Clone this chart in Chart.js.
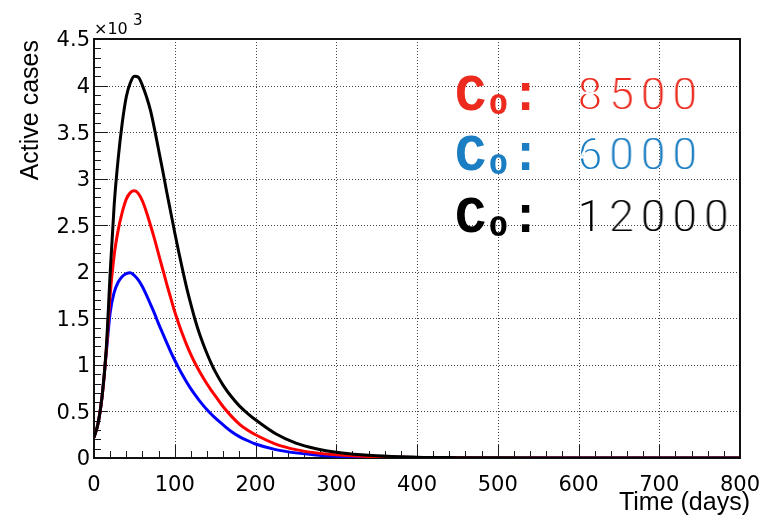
<!DOCTYPE html>
<html>
<head>
<meta charset="utf-8">
<title>Active cases vs time</title>
<script src="https://cdn.jsdelivr.net/npm/chart.js@4.4.1/dist/chart.umd.min.js"></script>
<style>
  html, body { margin: 0; padding: 0; background: #ffffff; }
  canvas { display: block; }
</style>
</head>
<body>
<canvas id="chart" width="761" height="519"></canvas>
<script>
// Sample days (x) shared by all three curves
const days = [0, 5, 10, 15, 20, 25, 30, 35, 40, 45, 50, 55, 60, 65, 70, 75, 80, 85, 90, 95,
              100, 105, 110, 115, 120, 125, 130, 135, 140, 145, 150, 160, 170, 180, 190, 200,
              225, 250, 275, 300, 350, 400, 450, 500, 600, 700, 800];

// Active cases for each initial value C0
const casesC0_12000 = [220, 370, 660, 1150, 1980, 2720, 3220, 3600, 3880, 4030, 4100, 4090, 4000,
                       3880, 3730, 3530, 3310, 3090, 2860, 2640, 2420, 2210, 2010, 1820, 1650,
                       1490, 1350, 1230, 1120, 1020, 930, 780, 660, 560, 480, 410,
                       260, 160, 100, 62, 24, 9, 3.5, 1.4, 0.2, 0, 0];
const casesC0_8500  = [220, 370, 660, 1130, 1750, 2180, 2450, 2640, 2780, 2850, 2870, 2840, 2760,
                       2640, 2500, 2350, 2190, 2030, 1870, 1720, 1570, 1440, 1320, 1210, 1110,
                       1020, 940, 865, 795, 730, 670, 550, 450, 365, 300, 250,
                       150, 90, 55, 35, 13, 5, 2, 0.7, 0.1, 0, 0];
const casesC0_6000  = [220, 370, 660, 1110, 1560, 1780, 1890, 1950, 1980, 1990, 1960, 1910, 1840,
                       1750, 1650, 1550, 1440, 1340, 1240, 1140, 1050, 965, 885, 810, 742,
                       680, 622, 568, 518, 472, 430, 355, 285, 230, 188, 150,
                       90, 55, 33, 20, 7, 2.5, 1, 0.3, 0, 0, 0];

// Axis tick labels
const xTickValues = [0, 100, 200, 300, 400, 500, 600, 700, 800];
const xTickLabels = ['0', '100', '200', '300', '400', '500', '600', '700', '800'];
const yTickValues = [0, 500, 1000, 1500, 2000, 2500, 3000, 3500, 4000, 4500];
const yTickLabels = ['0', '0.5', '1', '1.5', '2', '2.5', '3', '3.5', '4', '4.5'];

// Legend entries (C0 values), drawn in this order from top to bottom
const legendValues = ['8500', '6000', '12000'];
const legendColors = ['#ec2a1e', '#1c7ec2', '#000000'];

const toPoints = (ys) => days.map((d, i) => ({ x: d, y: ys[i] }));

// Draw a character on a scratch canvas and erode its strokes so that it looks light
function drawLightChar(ctx, ch, cx, y, font, color, erode) {
  const off = document.createElement('canvas');
  off.width = 80; off.height = 100;
  const o = off.getContext('2d');
  o.font = font;
  o.textAlign = 'center';
  o.textBaseline = 'alphabetic';
  o.fillStyle = color;
  o.fillText(ch, 40, 75);
  o.globalCompositeOperation = 'destination-out';
  o.lineWidth = erode;
  o.strokeText(ch, 40, 75);
  ctx.drawImage(off, cx - 40, y - 75);
}

// Dotted grid, frame, inward tick marks, titles and the C0 legend
const frameAndTicks = {
  id: 'frameAndTicks',
  beforeDatasetsDraw(chart) {
    const { ctx, chartArea: a, scales: { x, y } } = chart;
    ctx.save();
    ctx.strokeStyle = '#444444';
    ctx.lineWidth = 1;
    ctx.setLineDash([1, 2]);
    xTickValues.forEach(v => {
      if (v <= 0 || v >= 800) return;
      const px = Math.round(x.getPixelForValue(v)) + 0.5;
      ctx.beginPath(); ctx.moveTo(px, a.top); ctx.lineTo(px, a.bottom); ctx.stroke();
    });
    yTickValues.forEach(v => {
      if (v <= 0 || v >= 4500) return;
      const py = Math.round(y.getPixelForValue(v)) + 0.5;
      ctx.beginPath(); ctx.moveTo(a.left, py); ctx.lineTo(a.right, py); ctx.stroke();
    });
    ctx.setLineDash([]);
    ctx.strokeStyle = '#1a1a1a';
    ctx.lineWidth = 1;
    for (let v = 0; v <= 800; v += 20) {
      const px = Math.round(x.getPixelForValue(v)) + 0.5;
      const len = (v % 100 === 0) ? 13 : 7;
      ctx.beginPath(); ctx.moveTo(px, a.bottom); ctx.lineTo(px, a.bottom - len); ctx.stroke();
    }
    for (let v = 0; v <= 4500; v += 100) {
      const py = Math.round(y.getPixelForValue(v)) + 0.5;
      const len = (v % 500 === 0) ? 14 : 7;
      ctx.beginPath(); ctx.moveTo(a.left, py); ctx.lineTo(a.left + len, py); ctx.stroke();
    }
    ctx.strokeStyle = '#111111';
    ctx.lineWidth = 2;
    ctx.strokeRect(a.left, a.top, a.right - a.left, a.bottom - a.top);
    ctx.restore();
  },
  afterDraw(chart) {
    const { ctx, chartArea: a } = chart;
    ctx.save();
    ctx.fillStyle = '#000000';
    ctx.font = '25px "Liberation Sans", Arial, sans-serif';
    ctx.textBaseline = 'alphabetic';
    ctx.textAlign = 'right';
    ctx.fillText('Time (days)', 750, 510);
    ctx.save();
    ctx.translate(38, a.top + 1);
    ctx.rotate(-Math.PI / 2);
    ctx.textAlign = 'right';
    ctx.fillText('Active cases', 0, 0);
    ctx.restore();
    // exponent of the y axis
    ctx.textAlign = 'left';
    ctx.font = '16px "DejaVu Sans", sans-serif';
    ctx.fillText('\u00d710', 94, 34);
    ctx.font = '15px "DejaVu Sans", sans-serif';
    ctx.fillText('3', 133, 25);

    // legend: bold "C0:" followed by a light value
    const baselines = [110, 170, 232];
    legendValues.forEach((val, i) => {
      const yb = baselines[i];
      ctx.fillStyle = legendColors[i];
      ctx.textAlign = 'left';
      ctx.font = 'bold 52px "Liberation Mono", monospace';
      ctx.fillText('C', 455, yb);
      ctx.fillText(':', 510, yb);
      ctx.font = 'bold 27px "DejaVu Sans", sans-serif';
      ctx.fillText('0', 489, yb + 4);
      [...val].forEach((ch, k) => {
        drawLightChar(ctx, ch, 590 + 31.6 * k, yb, '46px Roboto, "Liberation Sans", sans-serif', legendColors[i], 1.8);
      });
    });
    ctx.restore();
  }
};

const lineStyle = { borderWidth: 3, pointRadius: 0, fill: false, cubicInterpolationMode: 'monotone' };

new Chart(document.getElementById('chart'), {
  type: 'line',
  data: {
    datasets: [
      { label: 'C0: 12000', data: toPoints(casesC0_12000), borderColor: '#000000', ...lineStyle },
      { label: 'C0: 8500',  data: toPoints(casesC0_8500),  borderColor: '#ff0000', ...lineStyle },
      { label: 'C0: 6000',  data: toPoints(casesC0_6000),  borderColor: '#0000ff', ...lineStyle }
    ]
  },
  options: {
    responsive: false,
    animation: false,
    devicePixelRatio: 1,
    layout: { padding: { top: 39, right: 21, left: 0, bottom: 0 } },
    plugins: { legend: { display: false }, tooltip: { enabled: false } },
    scales: {
      x: {
        type: 'linear',
        min: 0, max: 800,
        grid: { display: false, drawTicks: false },
        border: { display: false },
        afterFit: (s) => { s.height = 61; s.paddingLeft = 0; s.paddingRight = 0; },
        afterBuildTicks: (s) => { s.ticks = xTickValues.map(v => ({ value: v })); },
        ticks: {
          autoSkip: false,
          maxRotation: 0,
          padding: 15,
          color: '#000000',
          font: { family: '"DejaVu Sans", sans-serif', size: 21 },
          callback: (v) => xTickLabels[xTickValues.indexOf(v)]
        }
      },
      y: {
        type: 'linear',
        min: 0, max: 4500,
        grid: { display: false, drawTicks: false },
        border: { display: false },
        afterFit: (s) => { s.width = 94; s.paddingTop = 0; s.paddingBottom = 0; },
        afterBuildTicks: (s) => { s.ticks = yTickValues.map(v => ({ value: v })); },
        ticks: {
          autoSkip: false,
          padding: 4,
          labelOffset: 2,
          color: '#000000',
          font: { family: '"DejaVu Sans", sans-serif', size: 21 },
          callback: (v) => yTickLabels[yTickValues.indexOf(v)]
        }
      }
    }
  },
  plugins: [frameAndTicks]
});
</script>
</body>
</html>
